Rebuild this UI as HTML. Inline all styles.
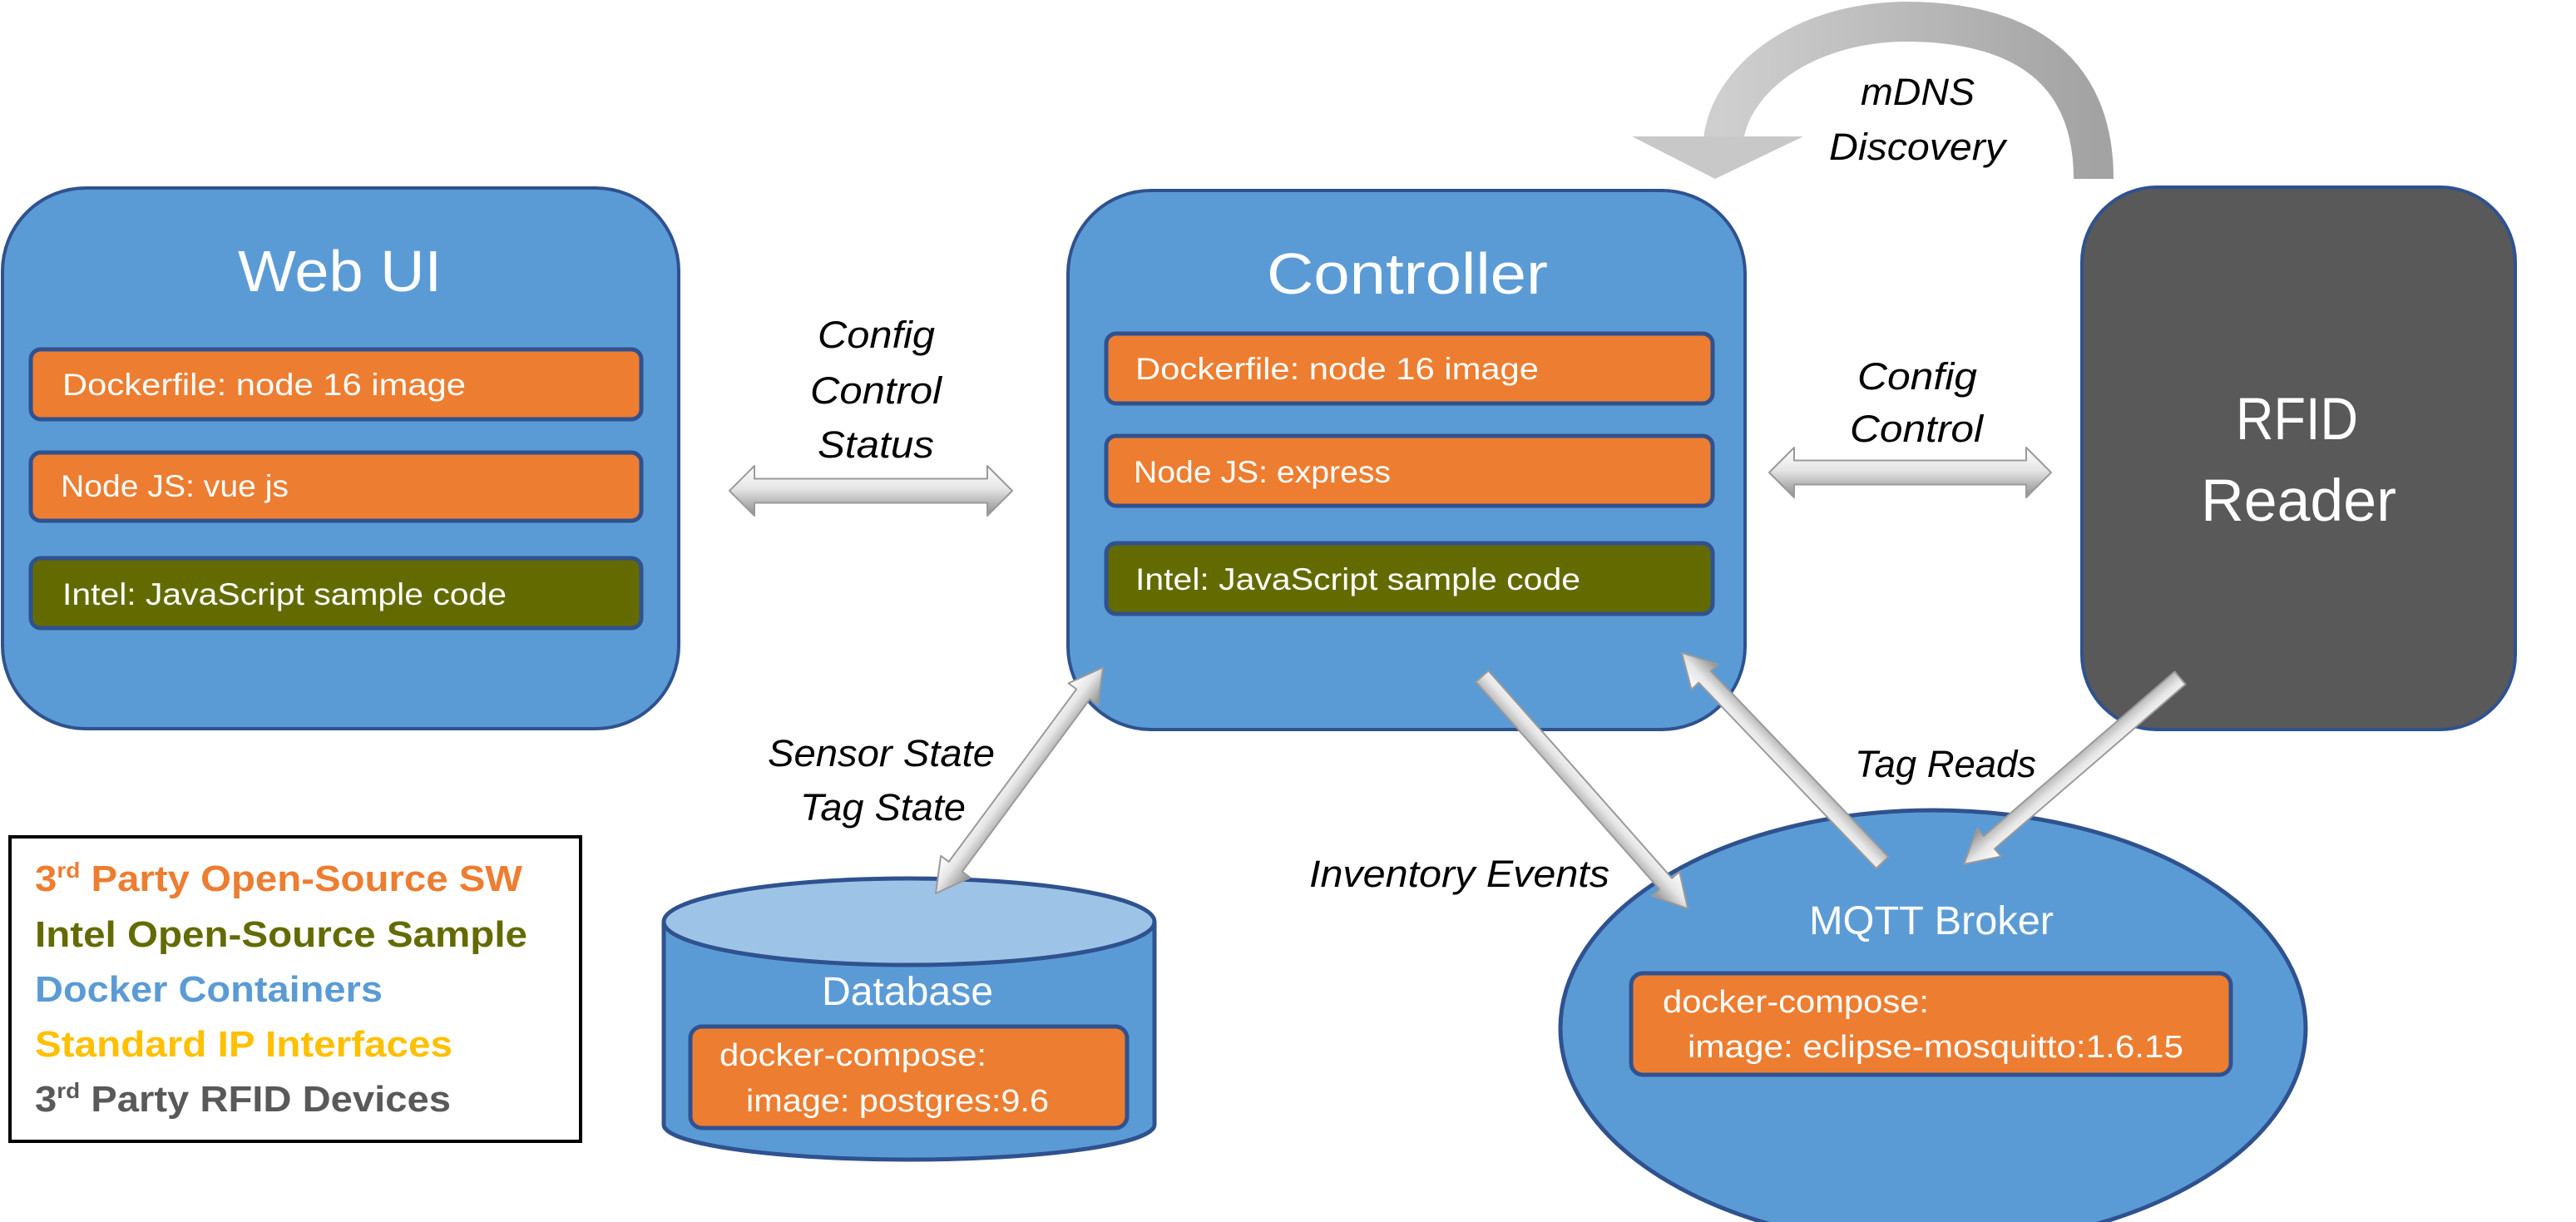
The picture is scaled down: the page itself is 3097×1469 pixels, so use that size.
<!DOCTYPE html>
<html><head><meta charset="utf-8"><style>
html,body{margin:0;padding:0;background:#fff;}
svg{display:block;}
text{font-family:"Liberation Sans Narrow","Liberation Sans",sans-serif;}
</style></head><body>
<svg width="3097" height="1469" viewBox="0 0 3097 1469" xmlns="http://www.w3.org/2000/svg">
<defs>
<linearGradient id="ag" x1="0" y1="0" x2="0" y2="1">
<stop offset="0" stop-color="#ffffff"/><stop offset="0.45" stop-color="#e6e6e6"/><stop offset="1" stop-color="#8c8c8c"/>
</linearGradient>
<linearGradient id="arc" x1="0" y1="0" x2="1" y2="0">
<stop offset="0" stop-color="#cfcfcf"/><stop offset="1" stop-color="#a3a3a3"/>
</linearGradient>
</defs>

<!-- mDNS arc -->
<path d="M2517,215 C2517,75 2420,26 2290,26 C2160,28 2080,100 2072,168" fill="none" stroke="url(#arc)" stroke-width="48"/>
<polygon points="1962,164 2168,164 2062,215" fill="#c8c8c8"/>
<text x="2237" y="126" font-size="45" font-style="italic" textLength="137" lengthAdjust="spacingAndGlyphs">mDNS</text>
<text x="2199" y="192" font-size="45" font-style="italic" textLength="212" lengthAdjust="spacingAndGlyphs">Discovery</text>

<!-- Web UI -->
<rect x="3" y="226" width="813" height="650" rx="100" fill="#5b9bd5" stroke="#2f528f" stroke-width="4"/>
<text x="286" y="350" font-size="70" fill="#fff" textLength="245" lengthAdjust="spacingAndGlyphs">Web UI</text>
<rect x="37" y="420" width="734" height="84" rx="12" fill="#ed7d31" stroke="#2f528f" stroke-width="5"/>
<text x="75" y="475" font-size="37" fill="#fff" textLength="485" lengthAdjust="spacingAndGlyphs">Dockerfile: node 16 image</text>
<rect x="37" y="544" width="734" height="82" rx="12" fill="#ed7d31" stroke="#2f528f" stroke-width="5"/>
<text x="73" y="597" font-size="37" fill="#fff" textLength="274" lengthAdjust="spacingAndGlyphs">Node JS: vue js</text>
<rect x="37" y="671" width="734" height="84" rx="12" fill="#636b00" stroke="#2f528f" stroke-width="5"/>
<text x="75" y="727" font-size="37" fill="#fff" textLength="534" lengthAdjust="spacingAndGlyphs">Intel: JavaScript sample code</text>

<!-- Controller -->
<rect x="1284" y="229" width="814" height="648" rx="100" fill="#5b9bd5" stroke="#2f528f" stroke-width="4"/>
<text x="1523" y="353" font-size="70" fill="#fff" textLength="338" lengthAdjust="spacingAndGlyphs">Controller</text>
<rect x="1330" y="401" width="729" height="84" rx="12" fill="#ed7d31" stroke="#2f528f" stroke-width="5"/>
<text x="1365" y="456" font-size="37" fill="#fff" textLength="485" lengthAdjust="spacingAndGlyphs">Dockerfile: node 16 image</text>
<rect x="1330" y="524" width="729" height="84" rx="12" fill="#ed7d31" stroke="#2f528f" stroke-width="5"/>
<text x="1363" y="580" font-size="37" fill="#fff" textLength="309" lengthAdjust="spacingAndGlyphs">Node JS: express</text>
<rect x="1330" y="653" width="729" height="85" rx="12" fill="#636b00" stroke="#2f528f" stroke-width="5"/>
<text x="1365" y="709" font-size="37" fill="#fff" textLength="535" lengthAdjust="spacingAndGlyphs">Intel: JavaScript sample code</text>

<!-- RFID Reader -->
<rect x="2503" y="225" width="521" height="652" rx="90" fill="#595959" stroke="#2f528f" stroke-width="4"/>
<text x="2688" y="528" font-size="71" fill="#fff" textLength="147" lengthAdjust="spacingAndGlyphs">RFID</text>
<text x="2646" y="626" font-size="71" fill="#fff" textLength="235" lengthAdjust="spacingAndGlyphs">Reader</text>

<!-- Config labels -->
<text x="983" y="418" font-size="45" font-style="italic" textLength="141" lengthAdjust="spacingAndGlyphs">Config</text>
<text x="974" y="485" font-size="45" font-style="italic" textLength="158" lengthAdjust="spacingAndGlyphs">Control</text>
<text x="983" y="550" font-size="45" font-style="italic" textLength="140" lengthAdjust="spacingAndGlyphs">Status</text>
<text x="2233" y="468" font-size="45" font-style="italic" textLength="144" lengthAdjust="spacingAndGlyphs">Config</text>
<text x="2224" y="531" font-size="45" font-style="italic" textLength="160" lengthAdjust="spacingAndGlyphs">Control</text>

<!-- Database cylinder -->
<path d="M798,1108 L798,1352 A295,42 0 0 0 1388,1352 L1388,1108" fill="#5b9bd5" stroke="#2f528f" stroke-width="5"/>
<ellipse cx="1093" cy="1108" rx="295" ry="52" fill="#9dc3e6" stroke="#2f528f" stroke-width="5"/>
<text x="988" y="1208" font-size="48" fill="#fff" textLength="206" lengthAdjust="spacingAndGlyphs">Database</text>
<rect x="830" y="1234" width="525" height="122" rx="14" fill="#ed7d31" stroke="#2f528f" stroke-width="5"/>
<text x="865" y="1281" font-size="38" fill="#fff" textLength="321" lengthAdjust="spacingAndGlyphs">docker-compose:</text>
<text x="897" y="1336" font-size="38" fill="#fff" textLength="364" lengthAdjust="spacingAndGlyphs">image: postgres:9.6</text>

<!-- MQTT ellipse -->
<ellipse cx="2324" cy="1236" rx="448" ry="262" fill="#5b9bd5" stroke="#2f528f" stroke-width="5"/>
<text x="2175" y="1123" font-size="48" fill="#fff" textLength="294" lengthAdjust="spacingAndGlyphs">MQTT Broker</text>
<rect x="1961" y="1170" width="721" height="122" rx="14" fill="#ed7d31" stroke="#2f528f" stroke-width="5"/>
<text x="1999" y="1217" font-size="38" fill="#fff" textLength="320" lengthAdjust="spacingAndGlyphs">docker-compose:</text>
<text x="2029" y="1271" font-size="38" fill="#fff" textLength="596" lengthAdjust="spacingAndGlyphs">image: eclipse-mosquitto:1.6.15</text>

<!-- Arrows -->
<g fill="url(#ag)" stroke="#9a9a9a" stroke-width="2" stroke-linejoin="round">
<g transform="translate(877,590)"><polygon points="0,0 30,-30 30,-14.5 310,-14.5 310,-30 340,0 310,30 310,14.5 30,14.5 30,30"/></g>
<g transform="translate(2127,568)"><polygon points="0,0 30,-30 30,-14.5 309,-14.5 309,-30 339,0 309,30 309,14.5 30,14.5 30,30"/></g>
<g transform="translate(1125,1074) rotate(-53.5)"><polygon points="0,0 40,-22 40,-10 298,-10 298,-22 338,0 298,22 298,10 40,10 40,22"/></g>
<g transform="translate(1782,813) rotate(48.5)"><polygon points="0,-10 333,-10 333,-22 373,0 333,22 333,10 0,10"/></g>
<g transform="translate(2263,1037) rotate(-133.7)"><polygon points="0,-10 309,-10 309,-22 349,0 309,22 309,10 0,10"/></g>
<g transform="translate(2621,815) rotate(139.25)"><polygon points="0,-10 303,-10 303,-22 343,0 303,22 303,10 0,10"/></g>
</g>

<!-- arrow labels -->
<text x="923" y="921" font-size="45" font-style="italic" textLength="273" lengthAdjust="spacingAndGlyphs">Sensor State</text>
<text x="962" y="986" font-size="45" font-style="italic" textLength="199" lengthAdjust="spacingAndGlyphs">Tag State</text>
<text x="1574" y="1066" font-size="45" font-style="italic" textLength="361" lengthAdjust="spacingAndGlyphs">Inventory Events</text>
<text x="2230" y="934" font-size="45" font-style="italic" textLength="218" lengthAdjust="spacingAndGlyphs">Tag Reads</text>

<!-- Legend -->
<rect x="12" y="1006" width="686" height="366" fill="#fff" stroke="#000" stroke-width="4"/>
<g font-weight="bold" font-size="44">
<text x="42" y="1071" fill="#ed7d31" textLength="586" lengthAdjust="spacingAndGlyphs">3<tspan font-size="26" dy="-16">rd</tspan><tspan dy="16"> Party Open-Source SW</tspan></text>
<text x="42" y="1138" fill="#636b00" textLength="592" lengthAdjust="spacingAndGlyphs">Intel Open-Source Sample</text>
<text x="42" y="1204" fill="#5b9bd5" textLength="418" lengthAdjust="spacingAndGlyphs">Docker Containers</text>
<text x="42" y="1270" fill="#ffc000" textLength="502" lengthAdjust="spacingAndGlyphs">Standard IP Interfaces</text>
<text x="42" y="1336" fill="#595959" textLength="500" lengthAdjust="spacingAndGlyphs">3<tspan font-size="26" dy="-16">rd</tspan><tspan dy="16"> Party RFID Devices</tspan></text>
</g>
</svg>
</body></html>
